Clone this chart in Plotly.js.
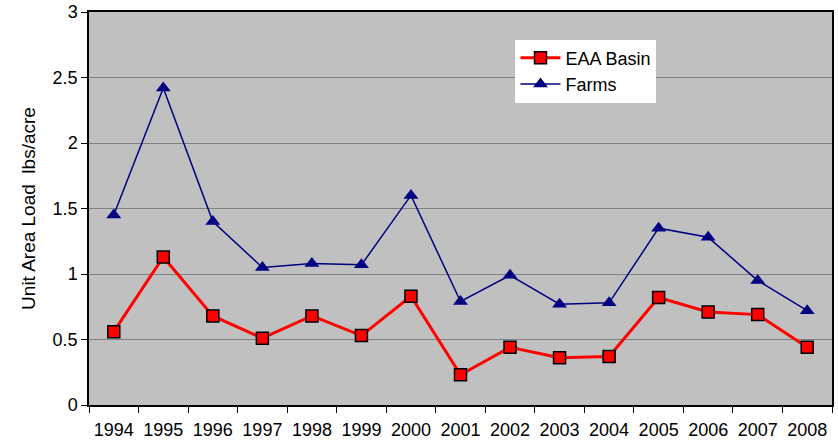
<!DOCTYPE html>
<html>
<head>
<meta charset="utf-8">
<script src="https://cdn.plot.ly/plotly-3.0.1.min.js"></script>
<style>
  html, body { margin: 0; padding: 0; background: #fff; }
  #chart { width: 838px; height: 445px; }
</style>
</head>
<body>
<div id="chart"></div>
<script>
// years on the x axis
const years = ['1994', '1995', '1996', '1997', '1998', '1999', '2000', '2001',
               '2002', '2003', '2004', '2005', '2006', '2007', '2008'];

// unit area load, lbs/acre
const eaaBasin = [0.56, 1.13, 0.68, 0.51, 0.68, 0.53, 0.83, 0.23, 0.44, 0.36, 0.37, 0.82, 0.71, 0.69, 0.44];
const farms    = [1.45, 2.42, 1.40, 1.05, 1.08, 1.07, 1.60, 0.79, 0.99, 0.77, 0.78, 1.35, 1.28, 0.95, 0.72];

const traceEAA = {
    type: 'scatter',
    mode: 'lines+markers',
    name: 'EAA Basin',
    x: years,
    y: eaaBasin,
    line: {color: '#FF0000', width: 3},
    marker: {symbol: 'square', size: 12, color: '#FF0000', line: {color: '#000000', width: 1.5}}
};

const traceFarms = {
    type: 'scatter',
    mode: 'lines+markers',
    name: 'Farms',
    x: years,
    y: farms,
    line: {color: '#000080', width: 1.5},
    marker: {symbol: 'triangle-up', size: 13, color: '#000080'}
};

const layout = {
    width: 838,
    height: 445,
    margin: {l: 89, r: 6, t: 12, b: 40},
    paper_bgcolor: '#FFFFFF',
    plot_bgcolor: '#C0C0C0',
    font: {family: 'Liberation Sans, Arial, sans-serif', size: 17, color: '#000'},
    showlegend: true,
    legend: {
        x: 0.574, y: 0.93, xanchor: 'left', yanchor: 'top',
        bgcolor: '#FFFFFF',
        font: {size: 18},
        itemwidth: 40,
        tracegroupgap: 0
    },
    xaxis: {
        type: 'category',
        range: [-0.5, 14.5],
        tickson: 'boundaries',
        ticks: 'outside',
        ticklen: 6,
        tickcolor: '#000',
        showgrid: false,
        showline: true,
        mirror: true,
        linecolor: '#000',
        linewidth: 1.5,
        tickfont: {size: 18},
        ticklabelstandoff: 8,
        zeroline: false
    },
    yaxis: {
        range: [0, 3],
        dtick: 0.5,
        ticks: 'outside',
        ticklen: 6,
        tickcolor: '#000',
        showgrid: true,
        gridcolor: '#808080',
        gridwidth: 1,
        showline: true,
        mirror: true,
        linecolor: '#000',
        linewidth: 1.5,
        zeroline: false,
        tickfont: {size: 18},
        title: {text: 'Unit Area Load  lbs/acre', font: {size: 19}, standoff: 12}
    }
};

Plotly.newPlot('chart', [traceEAA, traceFarms], layout, {displayModeBar: false});
</script>
</body>
</html>
